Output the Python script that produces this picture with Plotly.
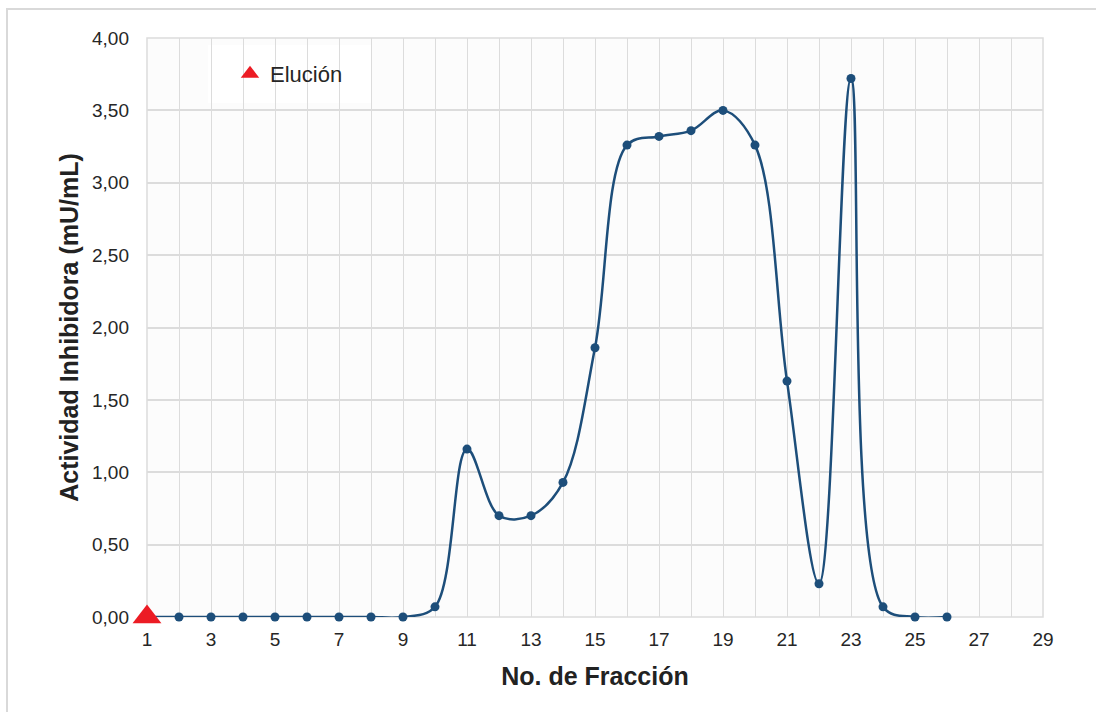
import plotly.graph_objects as go

# Fraction numbers and measured inhibitory activity (mU/mL)
fracciones = list(range(1, 27))
actividad = [0.00, 0.00, 0.00, 0.00, 0.00, 0.00, 0.00, 0.00, 0.00, 0.07,
             1.16, 0.70, 0.70, 0.93, 1.86, 3.26, 3.32, 3.36, 3.50, 3.26,
             1.63, 0.23, 3.72, 0.07, 0.00, 0.00]

# Elution start marker
elucion_x = [1]
elucion_y = [0.00]

x_ticks = list(range(1, 30, 2))
y_ticks = [0, 0.5, 1, 1.5, 2, 2.5, 3, 3.5, 4]

FONT = "Liberation Sans, Arial, sans-serif"
GRID = "#dcdcdc"
BLUE = "#1d4e7a"
RED = "#ec1c24"

# plot area geometry in pixels
W, H = 1096, 712
L, R, T, B = 147, 53, 38, 95
PW, PH = W - L - R, H - T - B


def px(xp):
    return (xp - L) / PW


def py(yp):
    return (H - B - yp) / PH


fig = go.Figure()

fig.add_trace(go.Scatter(
    x=fracciones, y=actividad,
    mode="lines+markers",
    line=dict(color=BLUE, width=2.5, shape="spline", smoothing=1.0),
    marker=dict(color=BLUE, size=9),
    showlegend=False,
    cliponaxis=False,
))

fig.add_trace(go.Scatter(
    x=elucion_x, y=elucion_y,
    mode="markers",
    name="Elución",
    marker=dict(symbol="triangle-up", color=RED, size=25),
    cliponaxis=False,
))

fig.update_layout(
    width=W, height=H,
    margin=dict(l=L, r=R, t=T, b=B, pad=0),
    paper_bgcolor="white",
    plot_bgcolor="#fcfcfc",
    separators=",.",
    font=dict(family=FONT, color="#262626", size=19),
    showlegend=True,
    legend=dict(
        x=px(230), y=py(74), xanchor="left", yanchor="middle",
        bgcolor="rgba(0,0,0,0)", borderwidth=0,
        font=dict(family=FONT, size=22, color="#262626"),
        itemsizing="trace",
    ),
    shapes=[
        # outer frame of the chart
        dict(type="rect", xref="paper", yref="paper",
             x0=px(7), x1=px(1110), y0=py(730), y1=py(9),
             line=dict(color="#d9d9d9", width=2), fillcolor="rgba(0,0,0,0)",
             layer="below"),
        # white box behind the legend
        dict(type="rect", xref="paper", yref="paper",
             x0=px(208), x1=px(372), y0=py(103), y1=py(45),
             line=dict(width=0), fillcolor="white", layer="between"),
        # plot-area border, kept beneath the data marks
        dict(type="rect", xref="paper", yref="paper",
             x0=0, x1=1, y0=0, y1=1,
             line=dict(color=GRID, width=1.5), fillcolor="rgba(0,0,0,0)",
             layer="between"),
    ],
)

fig.update_xaxes(
    range=[1, 29],
    tickmode="array", tickvals=x_ticks, ticktext=[str(v) for v in x_ticks],
    showgrid=True, gridcolor=GRID, gridwidth=1,
    minor=dict(dtick=1, tick0=1, showgrid=True, gridcolor=GRID, gridwidth=1),
    zeroline=False, showline=False,
    ticks="", ticklabelstandoff=9,
    tickfont=dict(size=19, color="#262626"),
    title=dict(text="No. de Fracción", standoff=18,
               font=dict(family=FONT, size=25, color="#222222", weight="bold")),
)

fig.update_yaxes(
    range=[0, 4],
    tickmode="array", tickvals=y_ticks, tickformat=".2f",
    showgrid=True, gridcolor=GRID, gridwidth=1.5,
    zeroline=False, showline=False,
    ticks="", ticklabelstandoff=17,
    tickfont=dict(size=19, color="#262626"),
    title=dict(text="Actividad Inhibidora (mU/mL)", standoff=6,
               font=dict(family=FONT, size=25, color="#222222", weight="bold")),
)

fig.write_html("out.html")
